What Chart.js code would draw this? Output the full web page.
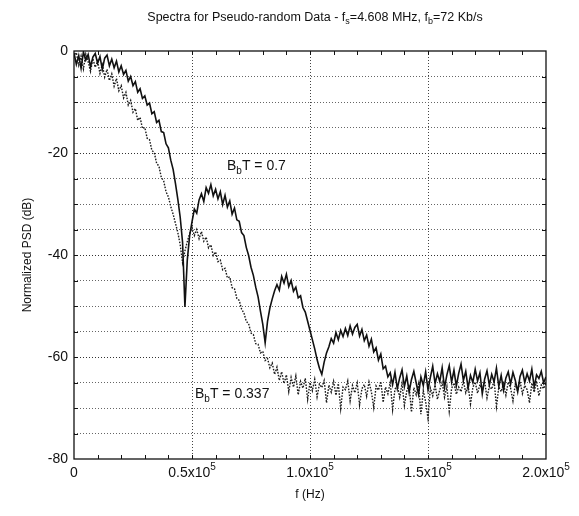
<!DOCTYPE html>
<html>
<head>
<meta charset="utf-8">
<title>Spectra for Pseudo-random Data</title>
<script src="https://cdn.jsdelivr.net/npm/chart.js@4.4.1/dist/chart.umd.min.js"></script>
<style>
  html, body { margin: 0; padding: 0; background: #fff; }
  canvas { display: block; }
</style>
</head>
<body>
<canvas id="psdChart" width="579" height="516"></canvas>
<script>
// frecuencia de muestreo de la curva (Hz entre puntos)
const stepHz = 1000;

// PSD normalizada (dB), BbT = 0.7 (linea continua)
const psdBbT07 = [
  -0.4, -2.6, -0.9, -3.4, -0.2, -1.8, -0.7, -3.1, -1.2, -0.5,
  -2.4, -1.1, -3.6, -1.4, -0.8, -2.9, -1.6, -3.3, -2.0, -4.1,
  -2.9, -4.6, -3.8, -5.9, -5.0, -6.8, -6.0, -8.1, -7.4, -9.3,
  -8.8, -10.6, -10.2, -12.3, -11.9, -14.0, -13.6, -15.8, -16.0, -18.2,
  -19.0, -21.4, -23.2, -26.0, -29.1, -32.6, -37.5, -50.2, -41.0, -36.2,
  -33.5, -31.0, -31.8, -29.2, -28.0, -29.5, -26.8, -27.9, -26.2, -28.4,
  -27.1, -29.0, -27.6, -30.1, -28.3, -30.6, -29.4, -32.0, -30.8, -33.1,
  -33.4, -35.6, -36.2, -38.5, -40.1, -42.4, -44.0, -46.3, -48.2, -51.0,
  -53.6, -57.2, -53.0, -50.4, -48.6, -47.0, -45.8, -46.9, -44.2, -45.5,
  -43.8, -46.2, -45.0, -47.1, -46.3, -48.4, -48.0, -50.3, -51.2, -53.0,
  -54.8, -56.6, -58.4, -60.5, -62.2, -63.4, -61.0, -59.2, -58.0, -56.4,
  -57.3, -55.2, -56.6, -54.8, -56.0, -54.4, -55.8, -53.9, -55.5, -54.2,
  -53.6, -55.9, -54.6, -56.8, -55.7, -57.9, -56.5, -59.0, -58.2, -60.6,
  -59.4, -62.3, -61.8, -63.9, -63.1, -65.4, -63.0, -66.2, -64.1, -62.5,
  -65.8, -63.7, -66.9, -64.4, -62.8, -65.1, -67.3, -63.9, -65.6, -62.9,
  -66.4, -64.0, -61.8, -65.2, -63.3, -64.8, -62.1, -66.0, -63.5, -61.7,
  -64.9, -62.6, -65.7, -63.2, -61.4, -64.6, -62.8, -66.1, -63.6, -65.0,
  -62.4, -64.7, -63.1, -67.2, -64.3, -62.7, -65.5, -63.4, -64.9, -62.2,
  -65.8, -63.6, -66.5, -64.1, -62.9, -65.3, -63.0, -64.6, -66.8, -63.8,
  -62.6, -65.0, -63.3, -64.7, -62.4, -65.9, -63.5, -64.2, -62.8, -65.1,
  -63.9
];

// PSD normalizada (dB), BbT = 0.337 (linea punteada)
const psdBbT0337 = [
  -1.2, -0.3, -2.8, -1.0, -3.5, -0.6, -2.1, -4.0, -1.5, -3.2,
  -2.0, -4.4, -2.7, -5.1, -3.6, -5.8, -4.5, -6.9, -5.4, -7.8,
  -6.8, -9.2, -8.1, -10.6, -9.7, -12.0, -11.3, -13.6, -13.0, -15.2,
  -15.0, -17.1, -17.4, -19.5, -19.9, -22.0, -22.6, -24.8, -25.5, -27.6,
  -28.6, -30.5, -32.0, -33.8, -35.6, -38.0, -41.5, -39.2, -37.4, -35.8,
  -34.6, -36.2, -35.0, -36.8, -35.4, -37.3, -36.5, -38.6, -38.0, -40.1,
  -39.4, -41.3, -41.0, -42.9, -42.6, -44.5, -44.3, -46.4, -46.6, -48.5,
  -48.9, -50.6, -51.4, -53.0, -53.5, -55.3, -55.6, -57.4, -57.5, -59.2,
  -58.9, -60.7, -60.3, -62.1, -61.2, -63.4, -62.0, -64.6, -62.9, -65.2,
  -63.5, -66.8, -64.0, -65.9, -63.7, -67.4, -64.8, -66.1, -64.2, -68.3,
  -65.0, -66.6, -64.4, -67.8, -65.3, -66.0, -64.6, -69.0, -65.5, -66.9,
  -64.8, -67.5, -65.2, -70.1, -65.9, -66.4, -64.7, -68.6, -65.6, -67.0,
  -65.1, -69.4, -66.2, -65.4, -67.7, -64.9, -66.8, -69.9, -65.7, -66.5,
  -64.8, -68.9, -65.9, -67.2, -65.0, -70.3, -66.3, -65.6, -67.9, -65.2,
  -69.5, -66.7, -65.4, -70.8, -66.0, -67.4, -65.3, -71.2, -66.6, -68.8,
  -72.0, -66.1, -67.6, -65.5, -68.3, -66.4, -65.0, -67.9, -65.8, -70.6,
  -66.2, -65.1, -67.3, -65.9, -66.8, -64.7, -67.0, -65.6, -69.2, -66.0,
  -64.9, -67.1, -65.4, -66.6, -64.8, -68.0, -65.7, -66.3, -64.6, -69.7,
  -65.9, -66.8, -65.2, -67.5, -64.9, -66.1, -68.6, -65.3, -66.7, -64.8,
  -67.2, -65.6, -66.4, -69.0, -65.1, -66.9, -64.7, -67.6, -65.5, -66.2,
  -65.0
];

// etiquetas de los ejes
const xTickValues = [0, 50000, 100000, 150000, 200000];
const xTickMantissa = ['0', '0.5x10', '1.0x10', '1.5x10', '2.0x10'];
const yMajorTicks = [0, -20, -40, -60, -80];

const FONT = '"Liberation Sans", Arial, Helvetica, sans-serif';
const INK = '#111';

const toPoints = (arr) => arr.map((v, i) => ({ x: i * stepHz, y: v }));

// dibuja texto con sub/superindices: partes = [{t, size, dy}]
function drawRich(ctx, parts, x, y, align) {
    let total = 0;
    parts.forEach(p => {
        ctx.font = p.size + 'px ' + FONT;
        p.w = ctx.measureText(p.t).width;
        total += p.w;
    });
    let cx = align === 'center' ? x - total / 2 : x;
    ctx.textAlign = 'left';
    ctx.textBaseline = 'alphabetic';
    parts.forEach(p => {
        ctx.font = p.size + 'px ' + FONT;
        ctx.fillText(p.t, cx, y + (p.dy || 0));
        cx += p.w;
    });
}

// plugin: marco, marcas internas, etiquetas del eje x, titulo y anotaciones
const decorPlugin = {
    id: 'decor',
    afterDraw(chart) {
        const { ctx, chartArea: a, scales: { x, y } } = chart;
        ctx.save();
        ctx.strokeStyle = INK;
        ctx.fillStyle = INK;

        // marco
        ctx.lineWidth = 1.3;
        ctx.strokeRect(a.left, a.top, a.right - a.left, a.bottom - a.top);

        // marcas hacia adentro
        ctx.lineWidth = 1;
        ctx.beginPath();
        for (let f = 10000; f < 200000; f += 10000) {
            const px = Math.round(x.getPixelForValue(f)) + 0.5;
            ctx.moveTo(px, a.bottom); ctx.lineTo(px, a.bottom - 4);
            ctx.moveTo(px, a.top); ctx.lineTo(px, a.top + 4);
        }
        for (let d = -75; d < 0; d += 5) {
            const py = Math.round(y.getPixelForValue(d)) + 0.5;
            ctx.moveTo(a.left, py); ctx.lineTo(a.left + 4, py);
            ctx.moveTo(a.right, py); ctx.lineTo(a.right - 4, py);
        }
        ctx.stroke();

        // etiquetas del eje x con exponente
        xTickValues.forEach((v, i) => {
            const px = x.getPixelForValue(v);
            const parts = [{ t: xTickMantissa[i], size: 14 }];
            if (v !== 0) parts.push({ t: '5', size: 10, dy: -7 });
            drawRich(ctx, parts, px, a.bottom + 18, 'center');
        });

        // titulo
        drawRich(ctx, [
            { t: 'Spectra for Pseudo-random Data - f', size: 12.5 },
            { t: 's', size: 9, dy: 3 },
            { t: '=4.608 MHz, f', size: 12.5 },
            { t: 'b', size: 9, dy: 3 },
            { t: '=72 Kb/s', size: 12.5 }
        ], 315, 21, 'center');

        // anotaciones de las curvas
        drawRich(ctx, [
            { t: 'B', size: 14 }, { t: 'b', size: 10, dy: 4 }, { t: 'T = 0.7', size: 14 }
        ], 227, 170, 'left');
        drawRich(ctx, [
            { t: 'B', size: 14 }, { t: 'b', size: 10, dy: 4 }, { t: 'T = 0.337', size: 14 }
        ], 195, 398, 'left');

        ctx.restore();
    }
};

const ctx = document.getElementById('psdChart');

new Chart(ctx, {
    type: 'line',
    data: {
        datasets: [{
            label: 'BbT = 0.7',
            data: toPoints(psdBbT07),
            borderColor: INK,
            borderWidth: 1.6,
            pointRadius: 0,
            tension: 0
        }, {
            label: 'BbT = 0.337',
            data: toPoints(psdBbT0337),
            borderColor: '#1a1a1a',
            borderWidth: 1.4,
            borderDash: [1.6, 1.4],
            pointRadius: 0,
            tension: 0
        }]
    },
    options: {
        responsive: false,
        animation: false,
        layout: { padding: { top: 51, right: 33, bottom: 0, left: 0 } },
        plugins: {
            legend: { display: false },
            title: { display: false },
            tooltip: { enabled: false }
        },
        scales: {
            x: {
                type: 'linear',
                min: 0,
                max: 200000,
                afterFit: (s) => { s.height = 57; },
                ticks: { display: false, stepSize: 50000 },
                grid: {
                    drawTicks: false,
                    color: (c) => (c.tick && c.tick.value > 0 && c.tick.value < 200000) ? '#444' : 'rgba(0,0,0,0)',
                    lineWidth: 1
                },
                border: { display: false, dash: [1, 2] },
                title: {
                    display: true,
                    text: 'f (Hz)',
                    color: INK,
                    font: { family: FONT, size: 12 },
                    padding: { top: 0, bottom: 14 }
                }
            },
            y: {
                min: -80,
                max: 0,
                afterFit: (s) => { s.width = 74; },
                ticks: {
                    stepSize: 5,
                    color: INK,
                    padding: 6,
                    font: { family: FONT, size: 14 },
                    callback: (v) => yMajorTicks.includes(v) ? String(v) : ''
                },
                grid: {
                    drawTicks: false,
                    color: (c) => {
                        if (!c.tick || c.tick.value === 0 || c.tick.value === -80) return 'rgba(0,0,0,0)';
                        return c.tick.value % 20 === 0 ? '#333' : '#666';
                    },
                    lineWidth: 1
                },
                border: { display: false, dash: [1, 2] },
                title: {
                    display: true,
                    text: 'Normalized PSD (dB)',
                    color: INK,
                    font: { family: FONT, size: 12 },
                    padding: { top: 20, bottom: 0 }
                }
            }
        }
    },
    plugins: [decorPlugin]
});
</script>
</body>
</html>
